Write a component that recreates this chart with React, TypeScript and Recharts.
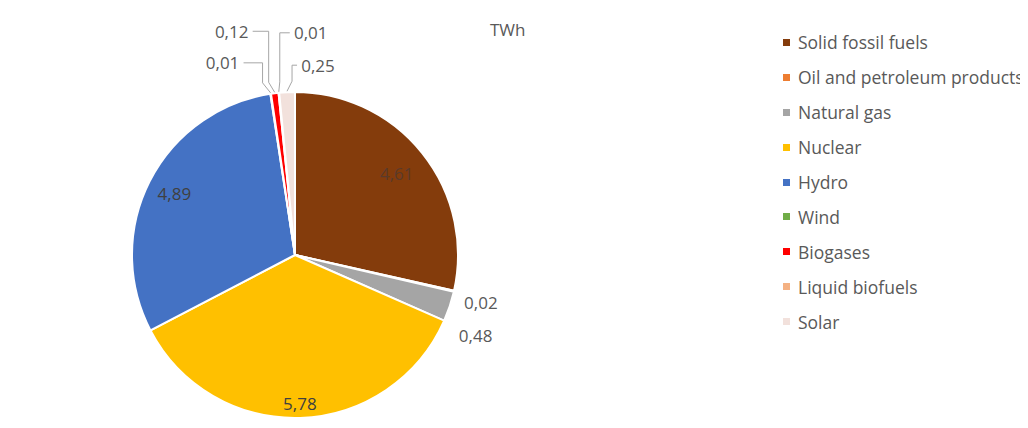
import React from 'react';
import { PieChart, Pie, Cell, Legend } from 'recharts';

const categories = [
  'Solid fossil fuels',
  'Oil and petroleum products',
  'Natural gas',
  'Nuclear',
  'Hydro',
  'Wind',
  'Biogases',
  'Liquid biofuels',
  'Solar',
];
const values = [4.61, 0.02, 0.48, 5.78, 4.89, 0.01, 0.12, 0.01, 0.25];
const colors = ['#843C0C', '#ED7D31', '#A5A5A5', '#FFC000', '#4472C4', '#70AD47', '#FF0000', '#F4B183', '#F2E1DC'];
const unitLabel = 'TWh';

// where each value label sits: inside at a radius fraction, or outside with an offset
const labelPlacement = [
  { r: 0.8 },
  { dx: 26, dy: 11 },
  { dx: 25, dy: 29 },
  { r: 0.91 },
  { r: 0.83 },
  { dx: -48, dy: -30, elbow: -8 },
  { dx: -43, dy: -61, elbow: -6 },
  { dx: 32, dy: -59, elbow: 1 },
  { dx: 31, dy: -26, elbow: 5 },
];

const data = categories.map((name, i) => ({ name, value: values[i] }));
const fmt = (v: number) => v.toFixed(2).replace('.', ',');
const RAD = Math.PI / 180;
const font = '"Open Sans", sans-serif';
const fs = 17;

const renderLabel = (props: any) => {
  const { cx, cy, midAngle, outerRadius, index, value } = props;
  const p: any = labelPlacement[index];
  const cos = Math.cos(-midAngle * RAD);
  const sin = Math.sin(-midAngle * RAD);
  if (p.r !== undefined) {
    const r = outerRadius * p.r;
    return (
      <text key={index} x={cx + r * cos} y={cy + r * sin} textAnchor="middle" dominantBaseline="central"
        fontSize={fs} fontFamily={font} fill={index === 0 ? '#5a3a2a' : '#404040'}>
        {fmt(value)}
      </text>
    );
  }
  const ax = cx + (outerRadius + 1) * cos;
  const ay = cy + (outerRadius + 1) * sin;
  const tx = ax + p.dx;
  const ty = ay + p.dy;
  let line = null;
  if (p.elbow !== undefined) {
    const edge = p.dx < 0 ? tx + 21 : tx - 21;
    const ex = ax + p.elbow;
    line = <polyline points={`${edge},${ty} ${ex},${ty} ${ex},${ay - 10} ${ax},${ay}`} fill="none" stroke="#a6a6a6" strokeWidth={1} />;
  }
  return (
    <g key={index}>
      {line}
      <text x={tx} y={ty} textAnchor="middle" dominantBaseline="central" fontSize={fs} fontFamily={font} fill="#595959">
        {fmt(value)}
      </text>
    </g>
  );
};

const renderLegend = () => (
  <ul style={{ listStyle: 'none', margin: 0, padding: 0 }}>
    {categories.map((name, i) => (
      <li key={name} style={{ height: 34.9, display: 'flex', alignItems: 'center', whiteSpace: 'nowrap' }}>
        <span style={{ width: 7, height: 7, background: colors[i], display: 'inline-block', marginRight: 8 }} />
        <span style={{ fontSize: 17.5, fontFamily: font, color: '#595959' }}>{name}</span>
      </li>
    ))}
  </ul>
);

export default function App() {
  return (
    <div style={{ position: 'relative', width: 1020, height: 420, overflow: 'hidden' }}>
      <PieChart width={1020} height={420} margin={{ top: 0, right: 0, bottom: 0, left: 0 }}>
        <Pie
          data={data}
          dataKey="value"
          nameKey="name"
          cx={287}
          cy={247}
          outerRadius={163}
          startAngle={90}
          endAngle={-270}
          stroke="#ffffff"
          strokeWidth={2}
          label={renderLabel}
          labelLine={false}
          isAnimationActive={false}
        >
          {data.map((d, i) => (
            <Cell key={d.name} fill={colors[i]} />
          ))}
        </Pie>
        <Legend
          layout="vertical"
          content={renderLegend}
          wrapperStyle={{ position: 'absolute', left: 775, top: 17, width: 320 }}
        />
      </PieChart>
      <div style={{ position: 'absolute', left: 482, top: 10, fontSize: fs, fontFamily: font, color: '#595959' }}>
        {unitLabel}
      </div>
    </div>
  );
}
